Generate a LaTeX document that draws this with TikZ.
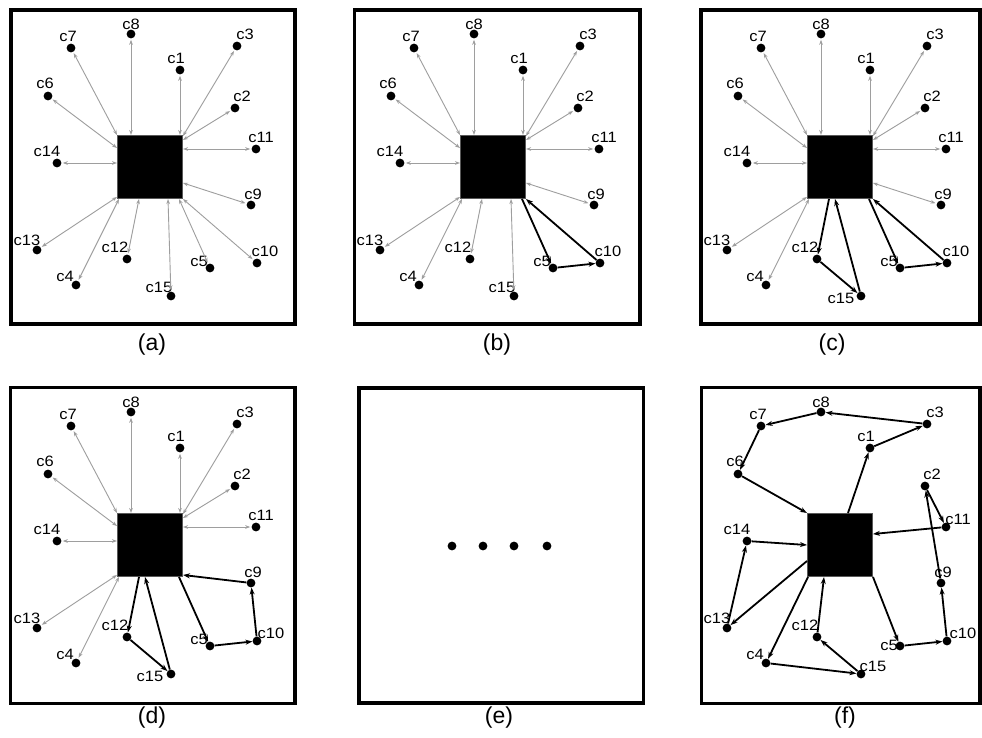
\documentclass[tikz,border=0pt]{standalone}
\usepackage{fontspec}
\setmainfont{Liberation Sans}
\newfontfamily\lblfont[FakeStretch=1.1]{Liberation Sans}
\usetikzlibrary{arrows.meta}
\tikzset{
  frame/.style={draw=black, line width=3.5pt},
  depot/.style={rectangle, draw=black!65, fill=black, line width=1.3pt, minimum width=65pt, minimum height=63pt, inner sep=0pt},
  cust/.style={circle, fill=black, inner sep=0pt, minimum size=8.8pt},
  clabel/.style={font=\lblfont\fontsize{15}{17}\selectfont, inner sep=0pt},
  grayarrow/.style={draw=black!38, line width=0.9pt, {Stealth[length=5pt,width=3.6pt]}-{Stealth[length=5pt,width=3.6pt]}, shorten <=1.2pt},
  route/.style={draw=black, line width=1.8pt, -{Stealth[length=7pt,width=5pt]}},
  caption/.style={font=\fontsize{23}{26}\selectfont, inner sep=0pt}
}
\newcommand\panelnodes[5]{%
  \node[depot] (#1-d) at (150,167) {};
  \foreach \n/\x/\y in {1/180/70,2/235/108,3/237/46,4/76/285,5/210/268,6/48/96,7/71/48,8/131/34,9/251/205,10/257/263,11/256/149,12/127/259,13/37/250,14/57/163,15/171/296}
    {\node[cust] (#1-c\n) at (\x,\y) {};}
  \foreach \n/\x/\y in {1/176/58,2/242/96,3/245/34,4/65/276,6/45/83,7/68/36,8/131/24,9/253/194,12/115/247,13/27/240,14/47/151}
    {\node[clabel] (#1-l\n) at (\x,\y) {c\n};}
  \node[clabel] (#1-l5) at #2 {c5};
  \node[clabel] (#1-l10) at #3 {c10};
  \node[clabel] (#1-l11) at #4 {c11};
  \node[clabel] (#1-l15) at #5 {c15};
  \foreach \n/\x/\y in {1/180/135,2/183/140,3/183/136,4/119/199,5/179/199,6/117/148,7/117/135,8/131/135,9/183/183,10/183/199,11/183/149,12/139/199,13/117/197,14/117/163,15/168/199}
    {\coordinate (#1-p\n) at (\x,\y);}
}
\newcommand\grays[2]{\foreach \n in {#2} {\draw[grayarrow] (#1-c\n) -- (#1-p\n);}}
\begin{document}
\begin{tikzpicture}[x=1pt,y=-1pt]
\useasboundingbox (0,0) rectangle (982,738);
\fill[white] (0,0) rectangle (982,738);
% frames
\draw[frame] (11,10) rectangle (295,324);
\draw[frame] (354.5,10) rectangle (640,324);
\draw[frame] (701,10) rectangle (980,324);
\draw[frame] (10.5,387.5) rectangle (295,703.5);
\draw[frame] (359,388) rectangle (643.5,703);
\draw[frame] (701.5,387.5) rectangle (980,703.5);
% captions
\node[caption] (capa) at (152,345) {(a)};
\node[caption] (capb) at (497,345) {(b)};
\node[caption] (capc) at (832,345) {(c)};
\node[caption] (capd) at (152,718) {(d)};
\node[caption] (cape) at (499,718) {(e)};
\node[caption] (capf) at (845,718) {(f)};
% (a)
\panelnodes{a}{(199,261)}{(265,251)}{(261,137)}{(159,287)}
\grays{a}{1,2,3,4,5,6,7,8,9,10,11,12,13,14,15}
% (b)
\begin{scope}[shift={(343,0)}]
\panelnodes{b}{(199,261)}{(265,251)}{(261,137)}{(159,287)}
\grays{b}{1,2,3,4,6,7,8,9,11,12,13,14,15}
\draw[route] (b-p5) -- (b-c5);
\draw[route] (b-c5) -- (b-c10);
\draw[route] (b-c10) -- (b-p10);
\end{scope}
% (c)
\begin{scope}[shift={(690,0)}]
\panelnodes{c}{(199,261)}{(266,251)}{(261,137)}{(151,298)}
\grays{c}{1,2,3,4,6,7,8,9,11,13,14}
\coordinate (c-i15) at (145,199);
\draw[route] (c-p12) -- (c-c12);
\draw[route] (c-c12) -- (c-c15);
\draw[route] (c-c15) -- (c-i15);
\draw[route] (c-p5) -- (c-c5);
\draw[route] (c-c5) -- (c-c10);
\draw[route] (c-c10) -- (c-p10);
\end{scope}
% (d)
\begin{scope}[shift={(0,378)}]
\panelnodes{d}{(199,261)}{(271,255)}{(261,137)}{(150,298)}
\grays{d}{1,2,3,4,6,7,8,11,13,14}
\coordinate (d-i15) at (145,199);
\coordinate (d-i9) at (183,197);
\draw[route] (d-p12) -- (d-c12);
\draw[route] (d-c12) -- (d-c15);
\draw[route] (d-c15) -- (d-i15);
\draw[route] (d-p5) -- (d-c5);
\draw[route] (d-c5) -- (d-c10);
\draw[route] (d-c10) -- (d-c9);
\draw[route] (d-c9) -- (d-i9);
\end{scope}
% (e)
\foreach \i/\x in {1/452,2/483,3/514,4/547}
  {\node[cust] (e-dot\i) at (\x,546) {};}
% (f)
\begin{scope}[shift={(690,378)}]
\panelnodes{f}{(199,267)}{(273,255)}{(268,141)}{(183,288)}
\coordinate (f-o1) at (158,135);
\coordinate (f-i6) at (117,135);
\coordinate (f-i14) at (117,167);
\coordinate (f-o13) at (117,183);
\coordinate (f-o4) at (118,199);
\coordinate (f-i12) at (134,199);
\coordinate (f-o5) at (183,199);
\coordinate (f-i11) at (183,156);
\draw[route] (f-o1) -- (f-c1);
\draw[route] (f-c1) -- (f-c3);
\draw[route] (f-c3) -- (f-c8);
\draw[route] (f-c8) -- (f-c7);
\draw[route] (f-c7) -- (f-c6);
\draw[route] (f-c6) -- (f-i6);
\draw[route] (f-o5) -- (f-c5);
\draw[route] (f-c5) -- (f-c10);
\draw[route] (f-c10) -- (f-c9);
\draw[route] (f-c9) -- (f-c2);
\draw[route] (f-c2) -- (f-c11);
\draw[route] (f-c11) -- (f-i11);
\draw[route] (f-o13) -- (f-c13);
\draw[route] (f-c13) -- (f-c14);
\draw[route] (f-c14) -- (f-i14);
\draw[route] (f-o4) -- (f-c4);
\draw[route] (f-c4) -- (f-c15);
\draw[route] (f-c15) -- (f-c12);
\draw[route] (f-c12) -- (f-i12);
\end{scope}
\end{tikzpicture}
\end{document}
